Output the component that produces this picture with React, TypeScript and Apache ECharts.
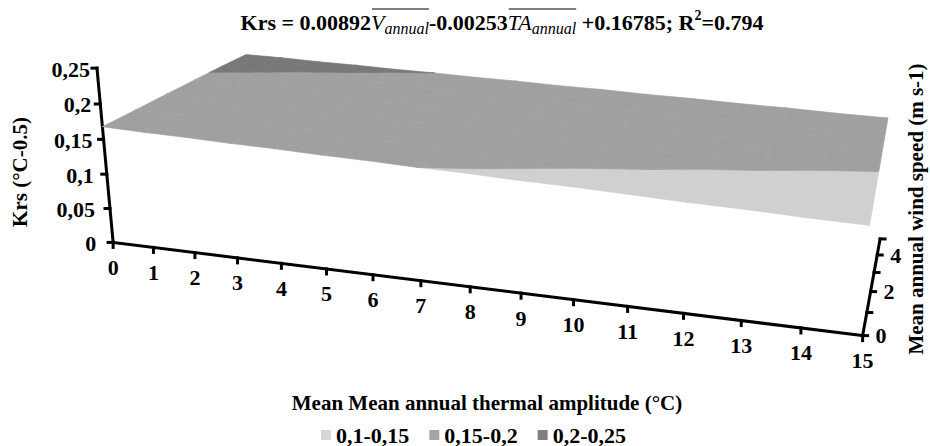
import React, { useEffect, useRef } from "react";
import * as echarts from "echarts";

// ---------------- data ----------------
const taTicks = [0, 1, 2, 3, 4, 5, 6, 7, 8, 9, 10, 11, 12, 13, 14, 15];
const windTicks = [0, 1, 2, 3, 4, 5];
const windLabelTicks = [0, 2, 4];
const krsTicks = [0, 0.05, 0.1, 0.15, 0.2, 0.25];
const krsTickLabels = ["0", "0,05", "0,1", "0,15", "0,2", "0,25"];

// Krs surface values, one row per wind speed (0..5 m s-1), one value per TA (0..15 °C)
const krsWind0 = [0.168, 0.165, 0.163, 0.160, 0.158, 0.155, 0.153, 0.150, 0.148, 0.145, 0.143, 0.140, 0.137, 0.135, 0.132, 0.130];
const krsWind1 = [0.177, 0.174, 0.172, 0.169, 0.167, 0.164, 0.162, 0.159, 0.157, 0.154, 0.151, 0.149, 0.146, 0.144, 0.141, 0.139];
const krsWind2 = [0.186, 0.183, 0.181, 0.178, 0.176, 0.173, 0.171, 0.168, 0.165, 0.163, 0.160, 0.158, 0.155, 0.153, 0.150, 0.148];
const krsWind3 = [0.195, 0.192, 0.190, 0.187, 0.184, 0.182, 0.179, 0.177, 0.174, 0.172, 0.169, 0.167, 0.164, 0.162, 0.159, 0.157];
const krsWind4 = [0.204, 0.201, 0.198, 0.196, 0.193, 0.191, 0.188, 0.186, 0.183, 0.181, 0.178, 0.176, 0.173, 0.171, 0.168, 0.166];
const krsWind5 = [0.212, 0.210, 0.207, 0.205, 0.202, 0.200, 0.197, 0.195, 0.192, 0.190, 0.187, 0.185, 0.182, 0.180, 0.177, 0.175];
const krsGrid = [krsWind0, krsWind1, krsWind2, krsWind3, krsWind4, krsWind5];

const bandNames = ["0,1-0,15", "0,15-0,2", "0,2-0,25"];
const bandLow = [0.1, 0.15, 0.2];
const bandHigh = [0.15, 0.2, 0.25];

// ---------------- styles ----------------
const surfaceColors = ["#d0d0d0", "#a0a0a0", "#787878"];
const legendColors = ["#d6d6d6", "#a6a6a6", "#7f7f7f"];
const FONT = "Liberation Serif";
const W = 930;
const H = 446;

// camera reference: world (TA, wind, Krs) -> page pixel, used to fit the 3D view
const CAMERA_REF: number[][] = [
  [0, 0, 0, 112, 241.7],
  [0, 0, 0.05, 109.1, 208.3],
  [0, 0, 0.1, 106.1, 174],
  [0, 0, 0.15, 103.2, 139.3],
  [0, 0, 0.2, 100, 103.3],
  [0, 0, 0.25, 97, 68],
  [1, 0, 0, 154, 247.3],
  [2, 0, 0, 195, 252.3],
  [3, 0, 0, 237.7, 258.3],
  [4, 0, 0, 281.7, 264],
  [5, 0, 0, 326.7, 269.7],
  [6, 0, 0, 373.3, 275.7],
  [7, 0, 0, 421.7, 281.7],
  [8, 0, 0, 470.7, 287.3],
  [9, 0, 0, 521.7, 294],
  [10, 0, 0, 574.3, 299.7],
  [11, 0, 0, 627.7, 306.3],
  [12, 0, 0, 683.3, 313.3],
  [13, 0, 0, 740.7, 320.7],
  [14, 0, 0, 800, 328.3],
  [15, 0, 0, 861.7, 335.3],
  [15, 1, 0, 866.2, 312],
  [15, 2, 0, 870, 291.3],
  [15, 3, 0, 874.2, 271.3],
  [15, 4, 0, 877.6, 253.7],
  [15, 5, 0, 880.5, 238.7],
  [15, 0, 0.1299, 870, 225],
  [15, 5, 0.1745, 889.3, 120],
  [15, 2.25, 0.15, 879.3, 171.7],
  [0, 5, 0.2125, 246.7, 55],
  [0, 0, 0.1679, 103.5, 126],
  [7.06, 0, 0.15, 420, 167.5],
  [0, 3.6, 0.2, 213.3, 71.7],
  [4.92, 5, 0.2, 427, 72.5],
];

function normW(ta: number, v: number, k: number) {
  return [ta / 7.5 - 1, v / 2.5 - 1, k / 0.125 - 1];
}

function fitCamera(ref: number[][]) {
  const N = 11;
  const M = Array.from({ length: N }, () => new Array(N).fill(0));
  const b = new Array(N).fill(0);
  const add = (row: number[], r: number) => {
    for (let a = 0; a < N; a++) {
      b[a] += row[a] * r;
      for (let c = 0; c < N; c++) M[a][c] += row[a] * row[c];
    }
  };
  for (const [ta, v, k, x, y] of ref) {
    const [X, Y, Z] = normW(ta, v, k);
    const u = (x - 465) / 300;
    const w = (y - 223) / 300;
    add([X, Y, Z, 1, 0, 0, 0, 0, -u * X, -u * Y, -u * Z], u);
    add([0, 0, 0, 0, X, Y, Z, 1, -w * X, -w * Y, -w * Z], w);
  }
  for (let c = 0; c < N; c++) {
    let p = c;
    for (let r = c + 1; r < N; r++) if (Math.abs(M[r][c]) > Math.abs(M[p][c])) p = r;
    [M[c], M[p]] = [M[p], M[c]];
    [b[c], b[p]] = [b[p], b[c]];
    for (let r = 0; r < N; r++) {
      if (r === c) continue;
      const f = M[r][c] / M[c][c];
      for (let cc = c; cc < N; cc++) M[r][cc] -= f * M[c][cc];
      b[r] -= f * b[c];
    }
  }
  return b.map((val, i) => val / M[i][i]);
}

const CAM = fitCamera(CAMERA_REF);

function project(ta: number, v: number, k: number): number[] {
  const [X, Y, Z] = normW(ta, v, k);
  const p = CAM;
  const den = p[8] * X + p[9] * Y + p[10] * Z + 1;
  const u = (p[0] * X + p[1] * Y + p[2] * Z + p[3]) / den;
  const w = (p[4] * X + p[5] * Y + p[6] * Z + p[7]) / den;
  return [u * 300 + 465, w * 300 + 223];
}

function clipPoly(poly: number[][], level: number, keepAbove: boolean) {
  const out: number[][] = [];
  const inside = (q: number[]) => (keepAbove ? q[2] >= level : q[2] <= level);
  for (let i = 0; i < poly.length; i++) {
    const a = poly[i];
    const b = poly[(i + 1) % poly.length];
    const ia = inside(a);
    const ib = inside(b);
    if (ia) out.push(a);
    if (ia !== ib) {
      const t = (level - a[2]) / (b[2] - a[2]);
      out.push([a[0] + t * (b[0] - a[0]), a[1] + t * (b[1] - a[1]), level]);
    }
  }
  return out;
}

const cells: number[][] = [];
for (let j = 0; j < windTicks.length - 1; j++) {
  for (let i = 0; i < taTicks.length - 1; i++) cells.push([i, j]);
}

function makeBandRenderer(bi: number) {
  return (params: any, api: any) => {
    const i = api.value(0);
    const j = api.value(1);
    const c = (ii: number, jj: number) => [taTicks[ii], windTicks[jj], krsGrid[jj][ii]];
    const tris = [
      [c(i, j), c(i + 1, j), c(i + 1, j + 1)],
      [c(i, j), c(i + 1, j + 1), c(i, j + 1)],
    ];
    const children: any[] = [];
    for (const tri of tris) {
      let p = clipPoly(tri, bandLow[bi], true);
      if (p.length >= 3) p = clipPoly(p, bandHigh[bi], false);
      if (p.length >= 3) {
        const pts = p.map((q) => api.coord(project(q[0], q[1], q[2])));
        children.push({
          type: "polygon",
          shape: { points: pts },
          style: { fill: surfaceColors[bi], stroke: surfaceColors[bi], lineWidth: 0.7 },
        });
      }
    }
    return { type: "group", children };
  };
}

function renderFrame(params: any, api: any) {
  const P = (ta: number, v: number, k: number) => api.coord(project(ta, v, k));
  const children: any[] = [];
  const line = (a: number[], b: number[]) => ({
    type: "line",
    shape: { x1: a[0], y1: a[1], x2: b[0], y2: b[1] },
    style: { stroke: "#000", lineWidth: 3, lineCap: "square" },
  });
  const label = (text: string, x: number, y: number, align: string) => ({
    type: "text",
    style: {
      text,
      x,
      y,
      fill: "#000",
      fontSize: 22,
      fontFamily: FONT,
      fontWeight: "bold",
      align,
      verticalAlign: "middle",
    },
  });
  const kMax = krsTicks[krsTicks.length - 1];
  const taMax = taTicks[taTicks.length - 1];
  const vMax = windTicks[windTicks.length - 1];
  // vertical Krs axis
  children.push(line(P(0, 0, 0), P(0, 0, kMax)));
  krsTicks.forEach((k, idx) => {
    const p = P(0, 0, k);
    children.push(line(p, [p[0] - 5, p[1]]));
    children.push(label(krsTickLabels[idx], p[0] - 7 - 10 * (1 - k / kMax), p[1] + 1, "right"));
  });
  // TA axis
  children.push(line(P(0, 0, 0), P(taMax, 0, 0)));
  taTicks.forEach((t) => {
    const p = P(t, 0, 0);
    children.push(line(p, [p[0], p[1] + 5]));
    children.push(label(String(t), p[0], p[1] + 25, "center"));
  });
  // wind axis
  children.push(line(P(taMax, 0, 0), P(taMax, vMax, 0)));
  windTicks.forEach((v) => {
    const p = P(taMax, v, 0);
    children.push(line(p, [p[0] + 5, p[1]]));
  });
  windLabelTicks.forEach((v) => {
    const p = P(taMax, v, 0);
    children.push(label(String(v), p[0] + 13, p[1], "left"));
  });
  return { type: "group", children };
}

// title pieces
type Piece = { t: string; style: "b" | "i" | "sub" | "sup"; over?: number };
const titlePieces: Piece[] = [
  { t: "Krs = 0.00892", style: "b" },
  { t: "V", style: "i", over: 1 },
  { t: "annual", style: "sub", over: 1 },
  { t: "-0.00253", style: "b" },
  { t: "TA", style: "i", over: 2 },
  { t: "annual", style: "sub", over: 2 },
  { t: " +0.16785; R", style: "b" },
  { t: "2", style: "sup" },
  { t: "=0.794", style: "b" },
];

function buildTitle() {
  const spec: Record<string, { size: number; weight: string; fstyle: string; y: number }> = {
    b: { size: 22, weight: "bold", fstyle: "normal", y: 22 },
    i: { size: 22, weight: "normal", fstyle: "italic", y: 22 },
    sub: { size: 16, weight: "normal", fstyle: "italic", y: 28 },
    sup: { size: 14, weight: "bold", fstyle: "normal", y: 15 },
  };
  const canvas = document.createElement("canvas");
  const ctx = canvas.getContext("2d")!;
  const widths = titlePieces.map((p) => {
    const s = spec[p.style];
    ctx.font = `${s.fstyle} ${s.weight} ${s.size}px "${FONT}"`;
    return ctx.measureText(p.t).width;
  });
  const total = widths.reduce((a, b) => a + b, 0);
  let x = 502 - total / 2;
  const els: any[] = [];
  const overs: Record<number, number[]> = {};
  titlePieces.forEach((p, i) => {
    const s = spec[p.style];
    els.push({
      type: "text",
      style: {
        text: p.t,
        x,
        y: s.y,
        fontSize: s.size,
        fontFamily: FONT,
        fontWeight: s.weight,
        fontStyle: s.fstyle,
        fill: "#000",
        align: "left",
        textAlign: "left",
        verticalAlign: "middle",
        textVerticalAlign: "middle",
      },
    });
    if (p.over) {
      if (!overs[p.over]) overs[p.over] = [x, x + widths[i]];
      else overs[p.over][1] = x + widths[i];
    }
    x += widths[i];
  });
  Object.values(overs).forEach(([x1, x2]) => {
    els.push({
      type: "line",
      shape: { x1: x1 + 1, y1: 9, x2: x2, y2: 9 },
      style: { stroke: "#000", lineWidth: 1.2 },
    });
  });
  return els;
}

export default function App() {
  const ref = useRef<HTMLDivElement>(null);
  useEffect(() => {
    if (!ref.current) return;
    const chart = echarts.init(ref.current, undefined, { renderer: "svg" });
    const axisTitleStyle = {
      fontSize: 21,
      fontFamily: FONT,
      fontWeight: "bold",
      fill: "#000",
      align: "center",
      verticalAlign: "middle",
      textAlign: "center",
      textVerticalAlign: "middle",
    };
    chart.setOption({
      animation: false,
      backgroundColor: "#fff",
      textStyle: { fontFamily: FONT, fontWeight: "bold", color: "#000" },
      grid: { left: 0, right: 0, top: 0, bottom: 0 },
      xAxis: { type: "value", min: 0, max: W, show: false },
      yAxis: { type: "value", min: 0, max: H, inverse: true, show: false },
      legend: {
        data: bandNames.map((n, i) => ({ name: n, itemStyle: { color: legendColors[i] } })),
        left: 321,
        top: 424,
        padding: 0,
        icon: "rect",
        itemWidth: 10,
        itemHeight: 10,
        itemGap: 20,
        selectedMode: false,
        textStyle: { fontFamily: FONT, fontWeight: "bold", fontSize: 22, lineHeight: 22, color: "#000" },
      },
      graphic: [
        ...buildTitle(),
        {
          type: "text",
          x: 20,
          y: 172,
          rotation: Math.PI / 2,
          style: { text: "Krs (°C-0.5)", ...axisTitleStyle },
        },
        {
          type: "text",
          x: 916,
          y: 209,
          rotation: Math.PI / 2,
          style: { text: "Mean annual wind speed (m s-1)", ...axisTitleStyle },
        },
        {
          type: "text",
          x: 487,
          y: 403,
          style: { text: "Mean Mean annual thermal amplitude (°C)", ...axisTitleStyle },
        },
      ],
      series: [
        {
          type: "custom",
          name: "frame",
          renderItem: renderFrame,
          data: [[0, 0]],
          z: 1,
          silent: true,
        },
        ...bandNames.map((n, bi) => ({
          type: "custom",
          name: n,
          renderItem: makeBandRenderer(bi),
          data: cells,
          itemStyle: { color: surfaceColors[bi] },
          z: 2,
          silent: true,
        })),
      ],
    });
    return () => chart.dispose();
  }, []);
  return <div ref={ref} style={{ position: "fixed", left: 0, top: 0, width: W, height: H }} />;
}
